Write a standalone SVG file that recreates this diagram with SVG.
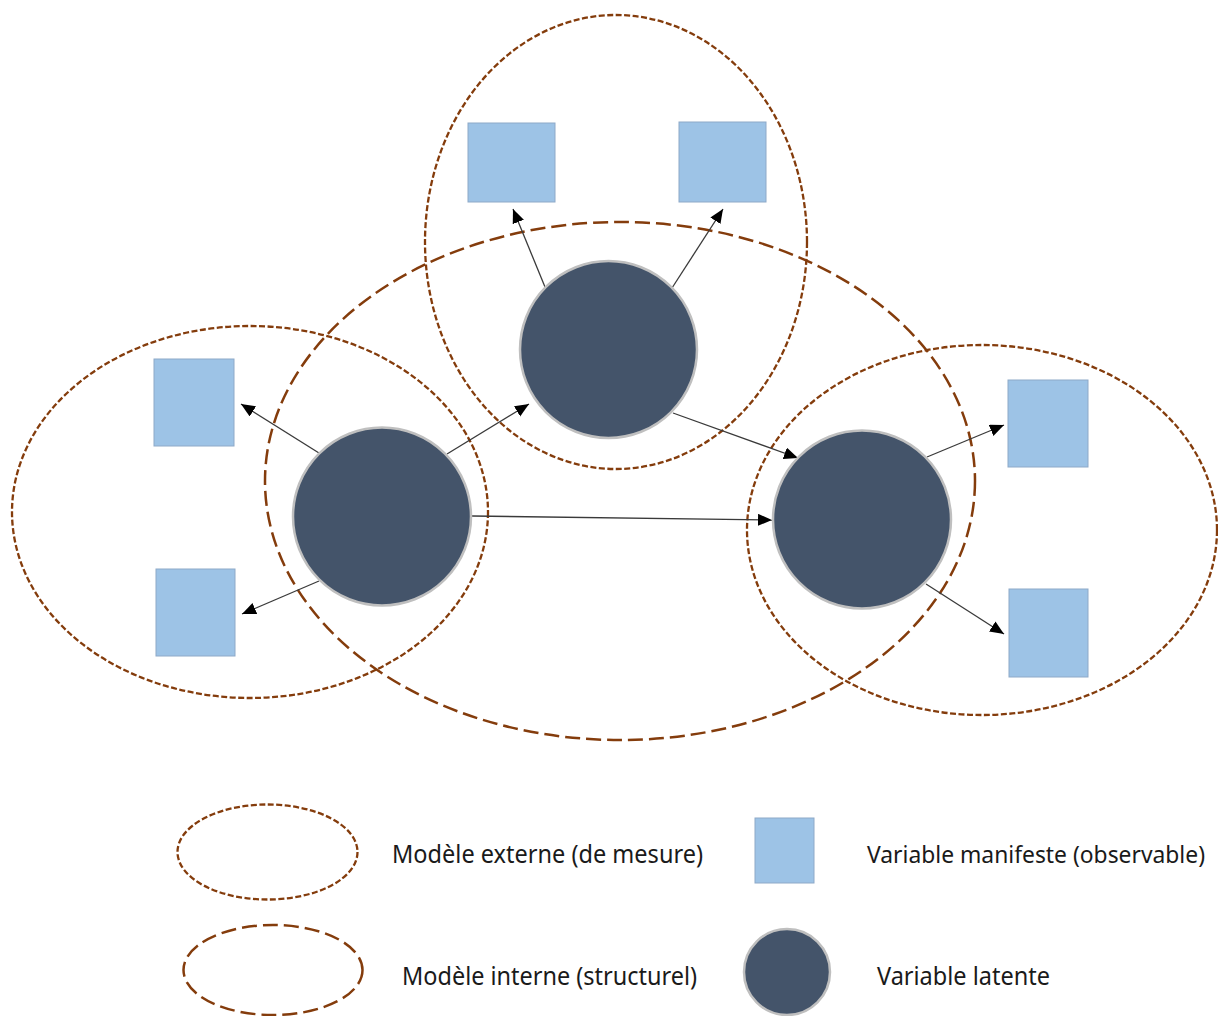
<svg xmlns="http://www.w3.org/2000/svg" width="1218" height="1016" viewBox="0 0 1218 1016">
<style>
.ext{fill:none;stroke:#843C0C;stroke-width:2.3;stroke-dasharray:6 2.5}
.int{fill:none;stroke:#843C0C;stroke-width:2.5;stroke-dasharray:15 6}
.mv{fill:#9DC3E6;stroke:#8EA9C8;stroke-width:1}
.lv{fill:#44546A;stroke:#BFBFBF;stroke-width:2.5}
.cn{stroke:#3A3A3A;stroke-width:1.3;fill:none;marker-end:url(#ah)}
.lbl{font-family:"Noto Sans","Open Sans","DejaVu Sans",sans-serif;font-size:24.5px;fill:#1A1A1A}
</style>
<defs>
<marker id="ah" markerUnits="userSpaceOnUse" markerWidth="15" markerHeight="13" refX="14" refY="6" orient="auto">
<path d="M0,0 L14,6 L0,12 z" fill="#000"/>
</marker>
</defs>
<rect width="1218" height="1016" fill="#fff"/>
<g id="models">
<ellipse id="ext-top" class="ext" cx="616" cy="242" rx="191" ry="227"/>
<ellipse id="int-main" class="int" cx="620" cy="481" rx="355" ry="259"/>
<ellipse id="ext-left" class="ext" cx="250" cy="512" rx="238" ry="186"/>
<ellipse id="ext-right" class="ext" cx="982" cy="530" rx="235" ry="185"/>
</g>
<g id="connectors">
<line class="cn" x1="545" y1="287" x2="513" y2="209"/>
<line class="cn" x1="672" y1="288" x2="723" y2="209"/>
<line class="cn" x1="319" y1="453" x2="241" y2="404"/>
<line class="cn" x1="319" y1="581" x2="242" y2="614"/>
<line class="cn" x1="447" y1="454" x2="529" y2="404"/>
<line class="cn" x1="673" y1="413" x2="798" y2="458"/>
<line class="cn" x1="472" y1="516" x2="772" y2="520"/>
<line class="cn" x1="927" y1="457" x2="1004" y2="425"/>
<line class="cn" x1="926" y1="584" x2="1004" y2="634"/>
</g>
<g id="mv-top-left"><rect class="mv" x="468" y="123" width="87" height="79"/></g>
<g id="mv-top-right"><rect class="mv" x="679" y="122" width="87" height="80"/></g>
<g id="mv-left-top"><rect class="mv" x="154" y="359" width="80" height="87"/></g>
<g id="mv-left-bottom"><rect class="mv" x="156" y="569" width="79" height="87"/></g>
<g id="mv-right-top"><rect class="mv" x="1008" y="380" width="80" height="87"/></g>
<g id="mv-right-bottom"><rect class="mv" x="1009" y="589" width="79" height="88"/></g>
<g id="lv-top"><circle class="lv" cx="608.5" cy="349.5" r="88.5"/></g>
<g id="lv-left"><circle class="lv" cx="382" cy="516.5" r="89"/></g>
<g id="lv-right"><circle class="lv" cx="862" cy="519.5" r="89"/></g>
<g id="legend">
<g id="legend-ext"><ellipse class="ext" cx="267.5" cy="852" rx="90" ry="47.5"/>
<text class="lbl" x="392" y="863" textLength="311" lengthAdjust="spacingAndGlyphs">Modèle externe (de mesure)</text></g>
<g id="legend-int"><ellipse class="int" cx="273" cy="970" rx="89.5" ry="45"/>
<text class="lbl" x="402" y="985" textLength="295" lengthAdjust="spacingAndGlyphs">Modèle interne (structurel)</text></g>
<g id="legend-mv"><rect class="mv" x="755" y="818" width="59" height="65"/>
<text class="lbl" x="867" y="863" style="font-size:23px" textLength="338" lengthAdjust="spacingAndGlyphs">Variable manifeste (observable)</text></g>
<g id="legend-lv"><circle class="lv" cx="787" cy="972" r="43"/>
<text class="lbl" x="877" y="985" textLength="173" lengthAdjust="spacingAndGlyphs">Variable latente</text></g>
</g>
</svg>
